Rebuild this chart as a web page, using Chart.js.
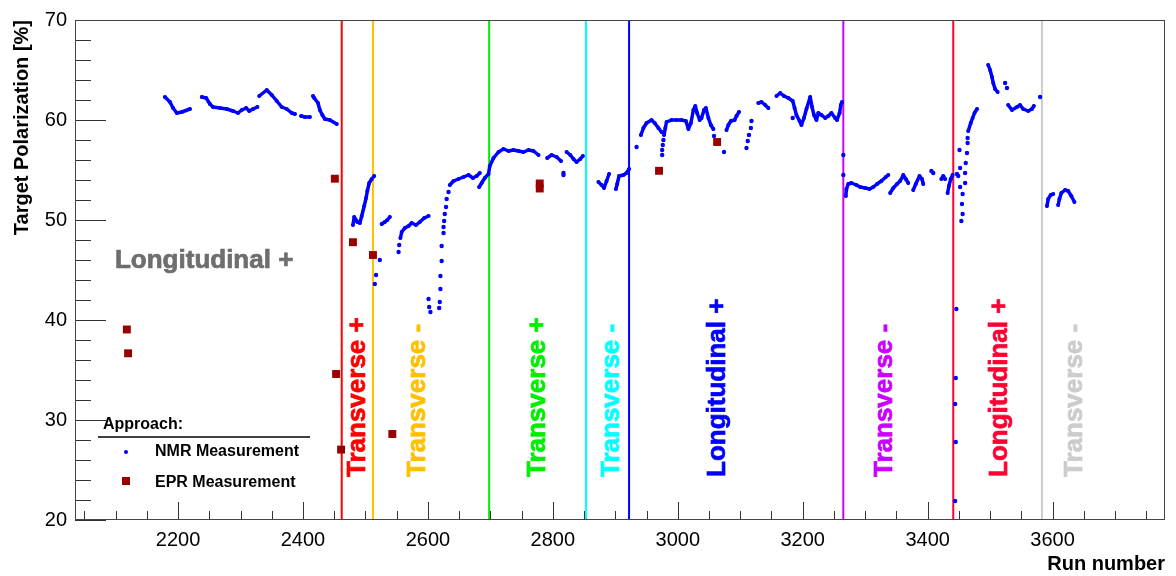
<!DOCTYPE html>
<html>
<head>
<meta charset="utf-8">
<script src="https://cdn.jsdelivr.net/npm/chart.js@4/dist/chart.umd.min.js"></script>
<style>
    html, body { margin: 0; padding: 0; background: #fff; }
    #wrap { width: 1176px; height: 576px; }
</style>
</head>
<body>
<div id="wrap"><canvas id="polChart" width="1176" height="576"></canvas></div>
<script>
// NMR measurement, continuous stretches (null = gap between stretches)
const nmrRun = [
    2179, 2187, 2192, 2198, 2206, 2219, null,
    2238, 2245, 2251, 2256, 2267, 2278, 2288, 2296, 2302, 2309, 2314, 2320, 2327, null,
    2330, 2342, 2350, 2358, 2366, 2374, 2382, 2387, null,
    2397, 2403, 2411, null,
    2416, 2418, 2424, 2427, 2431, 2435, 2443, 2454, null,
    2480, 2482, 2487, 2491, 2494, 2498, 2501, 2503, 2506, 2510, 2514, null,
    2526, 2531, 2535, 2539, null,
    2556, 2558, 2563, 2569, 2574, 2581, 2587, 2594, 2601, null,
    2635, 2641, 2649, 2657, 2665, 2672, 2678, 2683, null,
    2682, 2686, 2691, 2697, 2699, 2705, 2713, 2721, 2729, 2737, 2745, 2753, 2761, 2769, 2777, null,
    2791, 2798, 2806, 2813, null,
    2822, 2828, 2833, 2838, 2844, 2848, null,
    2873, 2878, 2882, 2886, 2890, null,
    2901, 2903, 2906, 2913, 2918, 2922, null,
    2941, 2945, 2950, 2958, 2963, 2969, 2974, null,
    2978, 2980, 2982, 2990, 2998, 3006, 3013, 3017, 3021, 3025, 3028, 3031, 3035, 3038, 3042, 3045, 3049, 3053, 3057, null,
    3078, 3081, 3085, 3091, 3094, 3098, null,
    3129, 3134, 3140, 3145, null,
    3158, 3164, 3170, 3177, 3184, 3187, 3190, 3195, 3198, 3202, 3206, 3212, 3215, 3218, 3222, 3225, 3230, 3236, 3241, 3246, 3252, 3255, 3259, 3261, 3263, null,
    3269, 3270, 3273, 3278, 3286, 3292, 3300, 3307, 3313, 3319, 3326, 3333, 3337, null,
    3340, 3345, 3351, 3356, 3361, 3365, 3369, null,
    3377, 3381, 3387, 3391, 3393, null,
    3422, 3425, 3428, null,
    3432, 3434, 3437, 3440, null,
    3465, 3469, 3472, 3475, 3479, null,
    3497, 3500, 3503, 3505, 3508, 3512, null,
    3529, 3535, 3543, 3548, 3553, 3561, 3567, 3570, null,
    3591, 3593, 3597, 3601, null,
    3609, 3611, 3614, 3620, 3625, 3630, 3635
];
const nmrPol = [
    62.3, 61.8, 61.2, 60.7, 60.8, 61.1, null,
    62.3, 62.2, 61.6, 61.3, 61.2, 61.1, 60.9, 60.7, 61.0, 61.2, 60.9, 61.1, 61.3, null,
    62.4, 63.0, 62.5, 61.9, 61.3, 61.1, 60.7, 60.6, null,
    60.4, 60.3, 60.3, null,
    62.4, 62.2, 61.7, 61.0, 60.5, 60.1, 60.0, 59.6, null,
    49.5, 50.3, 49.8, 49.7, 50.4, 51.4, 52.2, 52.9, 53.7, 54.1, 54.4, null,
    49.6, 49.8, 50.0, 50.3, null,
    48.2, 48.8, 49.2, 49.4, 49.7, 49.5, 49.8, 50.2, 50.4, null,
    53.5, 53.9, 54.1, 54.3, 54.5, 54.2, 54.4, 54.7, null,
    53.3, 53.7, 54.2, 54.6, 55.4, 56.2, 56.8, 57.1, 56.9, 57.0, 56.9, 56.8, 57.0, 56.9, 56.5, null,
    56.2, 56.5, 56.3, 55.9, null,
    56.8, 56.5, 56.1, 55.8, 56.1, 56.4, null,
    53.8, 53.5, 53.2, 53.9, 54.6, null,
    53.1, 53.6, 54.4, 54.5, 54.7, 55.1, null,
    58.5, 59.2, 59.7, 60.0, 59.7, 59.2, 58.8, null,
    58.5, 59.2, 59.8, 60.0, 60.0, 60.0, 59.9, 59.1, 59.7, 61.0, 61.4, 60.7, 60.0, 60.2, 61.0, 61.2, 60.2, 59.5, 59.1, null,
    59.0, 59.5, 59.9, 60.0, 60.4, 60.8, null,
    61.7, 61.8, 61.5, 61.2, null,
    62.4, 62.7, 62.4, 62.2, 61.9, 61.2, 60.5, 59.9, 59.5, 60.2, 61.1, 62.3, 61.3, 60.5, 60.0, 60.7, 60.5, 60.2, 60.4, 60.7, 60.2, 60.0, 60.7, 61.5, 61.8, null,
    52.4, 53.1, 53.6, 53.7, 53.5, 53.3, 53.2, 53.1, 53.3, 53.6, 53.9, 54.3, 54.5, null,
    52.7, 53.2, 53.6, 53.9, 54.5, 54.1, 53.7, null,
    53.0, 53.6, 54.4, 54.1, 53.6, null,
    54.1, 54.4, 54.1, null,
    52.7, 53.4, 54.1, 54.5, null,
    58.9, 59.7, 60.2, 60.7, 61.1, null,
    65.5, 65.0, 64.3, 63.7, 63.1, 62.8, null,
    61.5, 61.0, 61.3, 61.5, 61.1, 60.9, 61.1, 61.4, null,
    51.4, 52.1, 52.5, 52.6, null,
    51.5, 52.1, 52.7, 53.0, 52.9, 52.4, 51.8
];

// NMR measurement, isolated points
const nmrDotRun = [2515, 2517, 2523, 2553, 2554, 2601, 2602, 2604, 2618, 2619, 2620, 2620, 2622, 2622, 2625, 2625,
    2626, 2627, 2629, 2630, 2633, 2817, 2817, 2934, 2977, 2976, 2975, 2975, 3058, 3074, 3110, 3112, 3114, 3117, 3118,
    3184, 3265, 3265, 3406, 3409, 3444, 3445, 3444, 3445, 3446, 3447, 3449, 3451, 3452, 3452, 3454, 3455, 3456, 3456,
    3460, 3460, 3461, 3463, 3464, 3464, 3524, 3527, 3580];
const nmrDotPol = [43.6, 44.5, 46.0, 46.8, 47.5, 42.1, 41.3, 40.8, 41.2, 41.8, 43.1, 44.4, 45.9, 47.4, 48.7, 49.3,
    49.9, 50.6, 51.3, 52.1, 52.8, 54.7, 54.5, 57.3, 58.0, 57.5, 57.0, 56.5, 58.4, 56.8, 57.2, 57.9, 58.5, 59.2, 59.9,
    60.2, 56.5, 54.5, 54.9, 54.7, 21.9, 27.8, 31.6, 34.2, 41.1, 54.6, 54.4, 57.0, 55.2, 53.3, 49.9, 51.6, 50.6, 52.6,
    53.7, 54.7, 55.7, 56.7, 57.7, 58.2, 63.7, 63.2, 62.3];

// EPR measurement
const eprRun = [2118, 2120, 2451, 2453, 2461, 2480, 2512, 2543, 2779, 2779, 2970, 3063];
const eprPol = [39.05, 36.67, 54.13, 34.6, 27.04, 47.78, 46.5, 28.6, 53.65, 53.15, 54.92, 57.8];

// target spin configuration changes
const boundaryRun = [2462, 2512, 2698, 2853, 2922, 3265, 3441, 3583];
const regionName = ['Transverse +', 'Transverse -', 'Transverse +', 'Transverse -',
    'Longitudinal +', 'Transverse -', 'Longitudinal +', 'Transverse -'];
const regionLabelRun = [2488, 2584, 2776, 2895, 3064, 3332, 3516, 3636];
const regionColor = ['#ff0000', '#ffc000', '#00ee00', '#00ffff', '#0000ff', '#cc00ff', '#ff0033', '#cccccc'];

const FONT = '"Liberation Sans", Arial, sans-serif';

function toPoints(runs, pols) {
    return runs.map((r, i) => ({ x: r, y: pols[i] }));
}

// heavier text, like the ROOT bold helvetica
function boldText(ctx, text, x, y, color) {
    ctx.fillStyle = color;
    ctx.strokeStyle = color;
    ctx.lineWidth = 0.7;
    ctx.fillText(text, x, y);
    ctx.strokeText(text, x, y);
}

// frame, inward ticks, labels and the legend (ROOT look)
const rootDecor = {
    id: 'rootDecor',
    afterDatasetsDraw(chart) {
        const ctx = chart.ctx;
        const area = chart.chartArea;
        const xs = chart.scales.x;
        const ys = chart.scales.y;
        ctx.save();

        // tick marks
        ctx.strokeStyle = '#333';
        ctx.lineWidth = 1;
        ctx.beginPath();
        for (let v = 20; v <= 70; v += 2) {
            const y = Math.round(ys.getPixelForValue(v)) + 0.5;
            const len = v % 10 === 0 ? 31 : 16;
            ctx.moveTo(area.left, y);
            ctx.lineTo(area.left + len, y);
        }
        for (let r = 2050; r <= 3750; r += 50) {
            const x = Math.round(xs.getPixelForValue(r)) + 0.5;
            const len = r % 200 === 0 ? 18 : 9;
            ctx.moveTo(x, area.bottom);
            ctx.lineTo(x, area.bottom - len);
        }
        ctx.stroke();

        // frame
        ctx.strokeStyle = '#444';
        ctx.strokeRect(Math.round(area.left) + 0.5, Math.round(area.top) + 0.5,
            Math.round(area.right - area.left) - 1, Math.round(area.bottom - area.top) - 1);

        // region labels
        ctx.font = 'bold 26px ' + FONT;
        ctx.textAlign = 'left';
        ctx.textBaseline = 'middle';
        regionName.forEach((name, i) => {
            const x = xs.getPixelForValue(regionLabelRun[i]);
            const y = ys.getPixelForValue(24.3);
            ctx.save();
            ctx.translate(x, y);
            ctx.rotate(-Math.PI / 2);
            boldText(ctx, name, 0, 0, regionColor[i]);
            ctx.restore();
        });
        ctx.textBaseline = 'alphabetic';
        boldText(ctx, 'Longitudinal +', xs.getPixelForValue(2099), ys.getPixelForValue(45.2), '#6e6e6e');

        // legend
        ctx.fillStyle = '#000';
        ctx.font = 'bold 16px ' + FONT;
        ctx.fillText('Approach:', 103, 429);
        ctx.beginPath();
        ctx.lineWidth = 1.5;
        ctx.strokeStyle = '#000';
        ctx.moveTo(98, 437);
        ctx.lineTo(310, 437);
        ctx.stroke();
        ctx.fillText('NMR Measurement', 155, 456);
        ctx.fillText('EPR Measurement', 155, 487);
        ctx.fillStyle = '#0000ff';
        ctx.beginPath();
        ctx.arc(126, 452, 2, 0, Math.PI * 2);
        ctx.fill();
        ctx.fillStyle = '#990000';
        ctx.fillRect(122, 477, 8, 8);

        ctx.restore();
    }
};

const datasets = [
    {
        label: 'NMR Measurement',
        data: toPoints(nmrRun, nmrPol),
        showLine: true,
        spanGaps: false,
        borderColor: '#0000ff',
        borderWidth: 3.5,
        borderCapStyle: 'round',
        borderJoinStyle: 'round',
        pointRadius: 2,
        pointBorderWidth: 0,
        pointBackgroundColor: '#0000ff'
    },
    {
        label: 'NMR Measurement (single)',
        data: toPoints(nmrDotRun, nmrDotPol),
        showLine: false,
        pointRadius: 2.2,
        pointBorderWidth: 0,
        pointBackgroundColor: '#0000ff'
    },
    {
        label: 'EPR Measurement',
        data: toPoints(eprRun, eprPol),
        showLine: false,
        pointStyle: 'rect',
        pointRadius: 5.6,
        pointBorderWidth: 0,
        pointBackgroundColor: '#990000'
    }
];

boundaryRun.forEach((r, i) => {
    datasets.push({
        label: 'boundary ' + r,
        data: [{ x: r, y: 20 }, { x: r, y: 70 }],
        showLine: true,
        borderColor: regionColor[i],
        borderWidth: 2,
        pointRadius: 0
    });
});

new Chart(document.getElementById('polChart').getContext('2d'), {
    type: 'scatter',
    data: { datasets: datasets },
    options: {
        responsive: false,
        animation: false,
        events: [],
        layout: { padding: { top: 16, right: 11, left: 0, bottom: 0 } },
        plugins: {
            legend: { display: false },
            tooltip: { enabled: false }
        },
        scales: {
            x: {
                type: 'linear',
                position: 'bottom',
                min: 2035,
                max: 3780,
                grid: { display: false, drawTicks: false },
                border: { display: false },
                ticks: {
                    stepSize: 200,
                    includeBounds: false,
                    autoSkip: false,
                    maxRotation: 0,
                    padding: 8,
                    color: '#000',
                    font: { family: FONT, size: 20 },
                    callback: v => String(v)
                },
                title: {
                    display: true,
                    text: 'Run number',
                    align: 'end',
                    color: '#000',
                    font: { family: FONT, size: 20, weight: 'bold' },
                    padding: { top: 1, bottom: 0 }
                },
                afterFit: s => { s.height = 56; }
            },
            y: {
                min: 20,
                max: 70,
                grid: { display: false, drawTicks: false },
                border: { display: false },
                ticks: {
                    stepSize: 10,
                    padding: 8,
                    color: '#000',
                    font: { family: FONT, size: 20 }
                },
                title: {
                    display: true,
                    text: 'Target Polarization [%]',
                    align: 'end',
                    color: '#000',
                    font: { family: FONT, size: 20, weight: 'bold' },
                    padding: { top: 10, bottom: 0 }
                },
                afterFit: s => { s.width = 75; }
            }
        }
    },
    plugins: [rootDecor]
});
</script>
</body>
</html>
